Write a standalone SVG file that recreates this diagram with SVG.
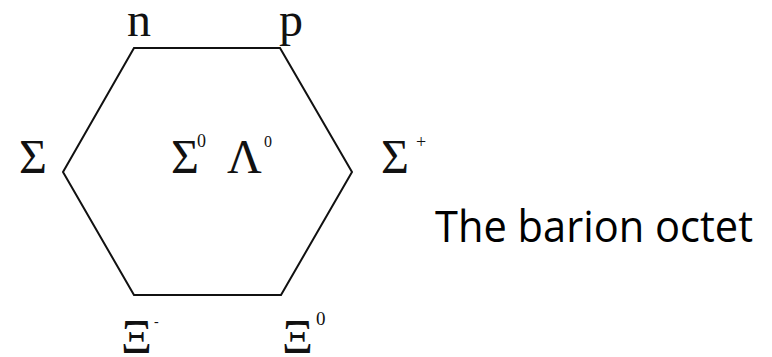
<svg xmlns="http://www.w3.org/2000/svg" width="772" height="357" viewBox="0 0 772 357">
<style>
.g{font-family:"Liberation Serif","Times New Roman",serif;fill:#111;font-size:48px}
.s{font-family:"Liberation Serif","Times New Roman",serif;fill:#111;font-size:18px}
.t{font-family:"Open Sans","Liberation Sans",sans-serif;fill:#000;font-size:44px}
.e{fill:none;stroke:#111;stroke-width:2;stroke-linejoin:miter}
</style>
<rect width="772" height="357" fill="#fff"/>
<g id="connectors">
<polygon class="e" points="134,48 280,48 352,172 281,295 134,295 63,172"/>
</g>
<g id="n"><text class="g" x="127" y="36">n</text></g>
<g id="p"><text class="g" x="279" y="36">p</text></g>
<g id="sigma-minus"><text class="g" x="19" y="173">Σ</text></g>
<g id="sigma0"><text class="g" x="171" y="173">Σ</text><text class="s" x="197" y="147">0</text></g>
<g id="lambda0"><text class="g" x="227" y="173">Λ</text><text class="s" x="264" y="147" style="font-size:16px">0</text></g>
<g id="sigma-plus"><text class="g" x="381" y="173">Σ</text><text class="s" x="416" y="148">+</text></g>
<g id="xi-minus"><text class="g" x="121" y="353">Ξ</text><text class="s" x="154" y="326" style="font-size:14px">-</text></g>
<g id="xi0"><text class="g" x="282" y="353">Ξ</text><text class="s" x="316" y="325" style="font-size:19px">0</text></g>
<g id="caption"><text class="t" x="435" y="242" textLength="318" lengthAdjust="spacingAndGlyphs">The barion octet</text></g>
</svg>
